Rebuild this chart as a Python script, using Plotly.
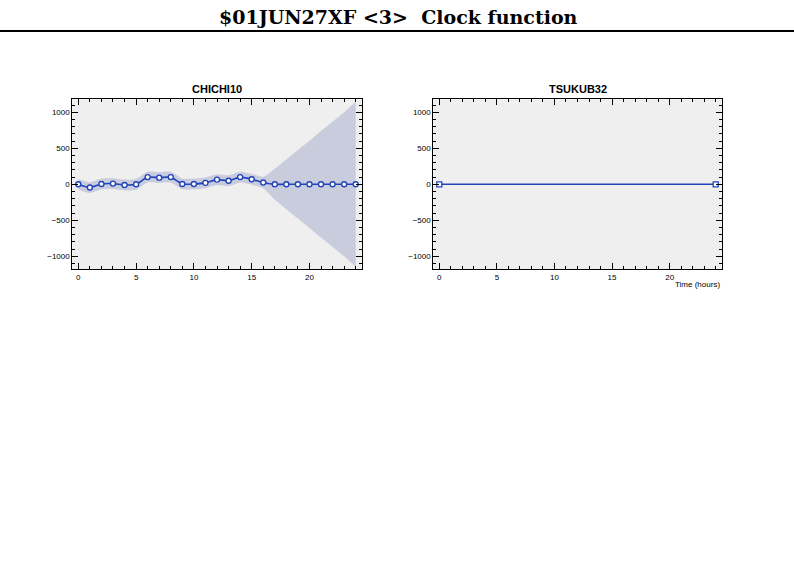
import plotly.graph_objects as go

# ---- data ----
title_text = "$01JUN27XF <3>\u00a0\u00a0Clock function"
station_left = "CHICHI10"
station_right = "TSUKUB32"

chichi_hours = [0, 1, 2, 3, 4, 5, 6, 7, 8, 9, 10, 11, 12, 13, 14, 15, 16,
                17, 18, 19, 20, 21, 22, 23, 24]
chichi_vals = [0, -45, 5, 10, -10, 0, 100, 92, 100, 5, 5, 20, 65, 50, 100, 70, 25,
               0, 0, 0, 0, 0, 0, 0, 0]
chichi_sigma = [75, 75, 75, 75, 75, 75, 75, 75, 75, 75, 75, 75, 75, 75, 75, 75, 80,
                215, 345, 475, 605, 740, 870, 1000, 1145]

tsukub_hours = [0, 24]
tsukub_vals = [0, 0]

x_ticks = [0, 5, 10, 15, 20]
y_ticks = [-1000, -500, 0, 500, 1000]
x_label = "Time (hours)"

# ---- style ----
W, H = 794, 577
LINE = "#2244bb"
BAND = "#c8ccdc"
BG = "#efefef"

def px_x(p):
    return p / W

def px_y(p):
    return 1 - p / H

dom_y = [px_y(269.3), px_y(99.3)]
dom_x1 = [px_x(72.3), px_x(361.7)]
dom_x2 = [px_x(433.3), px_x(721.7)]

upper = [v + s for v, s in zip(chichi_vals, chichi_sigma)]
lower = [v - s for v, s in zip(chichi_vals, chichi_sigma)]

fig = go.Figure()

fig.add_trace(go.Scatter(x=chichi_hours, y=lower, mode="lines",
                         line=dict(width=0, color=BAND, shape="spline", smoothing=0.6),
                         hoverinfo="skip", showlegend=False, xaxis="x", yaxis="y"))
fig.add_trace(go.Scatter(x=chichi_hours, y=upper, mode="lines", fill="tonexty",
                         fillcolor=BAND,
                         line=dict(width=0, color=BAND, shape="spline", smoothing=0.6),
                         hoverinfo="skip", showlegend=False, xaxis="x", yaxis="y"))
fig.add_trace(go.Scatter(x=chichi_hours, y=chichi_vals, mode="lines+markers",
                         line=dict(color=LINE, width=1.6, shape="spline", smoothing=0.6),
                         marker=dict(symbol="circle", size=5, color="white",
                                     line=dict(color=LINE, width=1.4)),
                         showlegend=False, xaxis="x", yaxis="y"))
fig.add_trace(go.Scatter(x=tsukub_hours, y=tsukub_vals, mode="lines+markers",
                         line=dict(color=LINE, width=1.4),
                         marker=dict(symbol="square", size=5, color="white",
                                     line=dict(color=LINE, width=1.3)),
                         showlegend=False, xaxis="x2", yaxis="y2"))

tickfont = dict(family="Liberation Sans, Arial, sans-serif", size=8, color="black")

def xaxis(domain, anchor):
    return dict(domain=domain, anchor=anchor, range=[-0.52, 24.52],
                tickvals=x_ticks, ticks="inside", ticklen=6, tickwidth=1,
                tickcolor="black", mirror="ticks", showline=True, linecolor="black",
                linewidth=1, showgrid=False, zeroline=False, tickfont=tickfont,
                minor=dict(ticks="inside", dtick=1, ticklen=3, tickcolor="black",
                           showgrid=False))

def yaxis(anchor):
    return dict(domain=dom_y, anchor=anchor, range=[-1180, 1180],
                tickvals=y_ticks, ticks="inside", ticklen=6, tickwidth=1,
                tickcolor="black", mirror="ticks", showline=True, linecolor="black",
                linewidth=1, showgrid=False, zeroline=False, tickfont=tickfont,
                minor=dict(ticks="inside", dtick=100, ticklen=3, tickcolor="black",
                           showgrid=False))

fig.update_layout(
    width=W, height=H,
    margin=dict(l=0, r=0, t=0, b=0),
    paper_bgcolor="white", plot_bgcolor=BG,
    xaxis=xaxis(dom_x1, "y"),
    yaxis=yaxis("x"),
    xaxis2=xaxis(dom_x2, "y2"),
    yaxis2=yaxis("x2"),
    showlegend=False,
)

fig.add_annotation(text=f"<b>{title_text}</b>", x=px_x(398), y=px_y(17),
                   xref="paper", yref="paper", showarrow=False,
                   font=dict(family="DejaVu Serif, serif", size=19, color="black"),
                   xanchor="center", yanchor="middle")
fig.add_shape(type="line", xref="paper", yref="paper", x0=0, x1=1,
              y0=px_y(31), y1=px_y(31), line=dict(color="black", width=2))

sub_font = dict(family="Liberation Sans, Arial, sans-serif", size=11, color="black")
fig.add_annotation(text=f"<b>{station_left}</b>", x=sum(dom_x1) / 2, y=px_y(89),
                   xref="paper", yref="paper", showarrow=False, font=sub_font,
                   xanchor="center", yanchor="middle")
fig.add_annotation(text=f"<b>{station_right}</b>", x=sum(dom_x2) / 2, y=px_y(89),
                   xref="paper", yref="paper", showarrow=False, font=sub_font,
                   xanchor="center", yanchor="middle")
fig.add_annotation(text=x_label, x=dom_x2[1], y=px_y(284), xref="paper",
                   yref="paper", showarrow=False,
                   font=dict(family="Liberation Sans, Arial, sans-serif", size=8,
                             color="black"),
                   xanchor="right", yanchor="middle")

fig.write_html("out.html",
               config={"displayModeBar": False},
               post_script="document.body.style.margin='0';"
                           "document.body.style.overflow='hidden';")
